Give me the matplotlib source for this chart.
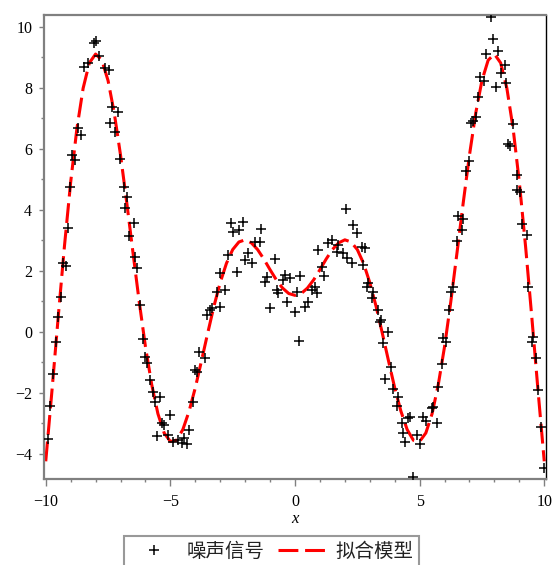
import numpy as np
import matplotlib.pyplot as plt

# noisy samples
noise_x = [-9.89, -9.82, -9.71, -9.59, -9.49, -9.39, -9.31, -9.18, -9.09, -9.02,
           -8.95, -8.82, -8.69, -8.59, -8.48, -8.32, -8.06, -7.99, -7.88, -7.62,
           -7.48, -7.35, -7.12, -7.41, -7.21, -7.01, -6.88, -6.75, -6.81, -6.44,
           -6.65, -6.41, -6.32, -6.21, -6.08, -6.01, -5.92, -5.81, -5.70, -5.41,
           -5.61, -5.01, -5.34, -5.24, -5.54, -5.08, -4.88, -4.68, -4.54, -4.34,
           -4.24, -4.45, -4.10, -4.01, -3.94, -3.84, -3.61, -3.54, -3.41, -3.34,
           -3.01, -3.14, -2.81, -3.01, -2.67, -2.31, -2.00, -1.87, -1.74, -1.60,
           -1.40, -2.58, -2.47, -2.23, -2.10, -1.35, -0.80, -1.20, -1.13, -1.00,
           -0.73, -0.67, -0.40, -0.47, -0.33, -0.20, 0.20, 0.07, 0.00, 0.17,
           0.40, 0.53, 0.67, 0.87, 0.80, 0.93, 1.17, 1.07, 1.33, 1.47,
           1.74, 1.67, 1.94, 2.07, 2.27, 2.06, 2.34, 2.47, 2.67, 2.81,
           2.74, 2.91, 2.87, 3.14, 3.07, 3.31, 3.41, 3.47, 3.74, 3.54,
           3.85, 3.61, 3.93, 4.14, 4.08, 4.61, 4.54, 4.28, 4.34, 4.42,
           4.74, 4.88, 5.01, 5.14, 5.24, 5.68, 5.48, 5.54, 5.74, 5.88,
           5.94, 6.05, 6.18, 6.24, 6.34, 6.48, 6.68, 6.55, 6.75, 6.88,
           6.99, 7.08, 7.15, 7.28, 7.35, 7.41, 7.58, 7.68, 7.88, 7.95,
           8.15, 8.28, 8.42, 8.06, 8.48, 8.75, 8.55, 8.62, 8.91, 8.89,
           9.02, 9.09, 9.29, 9.35, 9.53, 9.49, 9.66, 9.73, 9.86, 9.98]
noise_y = [-3.52, -2.42, -1.39, -0.34, 0.48, 1.14, 2.25, 2.17, 3.40, 4.76,
           5.80, 5.64, 6.68, 6.46, 8.67, 8.81, 9.47, 9.55, 9.03, 8.65,
           8.59, 7.39, 7.22, 6.84, 6.57, 5.66, 4.76, 4.44, 4.06, 3.58,
           3.15, 2.47, 2.09, 0.89, -0.23, -0.81, -1.01, -1.57, -1.96, -2.12,
           -2.30, -2.72, -2.99, -3.05, -3.41, -3.38, -3.60, -3.54, -3.65, -3.67,
           -3.21, -3.49, -2.29, -1.25, -1.30, -0.65, -0.86, 0.56, 0.72, 0.78,
           0.83, 1.32, 1.38, 1.92, 2.52, 1.98, 2.36, 2.58, 2.25, 2.96,
           2.96, 3.56, 3.29, 3.34, 3.62, 3.37, 2.38, 1.65, 1.81, 0.78,
           1.38, 1.27, 1.87, 1.70, 0.99, 1.76, 1.84, 1.32, 0.67, -0.28,
           0.82, 0.99, 1.38, 1.27, 1.49, 2.69, 1.84, 2.14, 2.91, 3.00,
           2.85, 2.63, 2.58, 2.42, 2.25, 4.02, 3.49, 3.24, 2.80, 2.74,
           2.20, 1.60, 1.49, 1.32, 1.10, 0.72, 0.34, 0.39, 0.01, -0.37,
           -1.14, -1.55, -1.87, -2.13, -2.43, -2.78, -2.83, -2.99, -3.32, -3.62,
           -4.74, -3.38, -3.66, -2.78, -2.93, -2.99, -2.50, -2.45, -1.82, -1.05,
           -0.21, -0.32, 0.72, 1.32, 1.49, 2.98, 3.34, 3.80, 3.70, 5.29,
           5.62, 6.84, 6.90, 7.04, 7.71, 8.37, 8.24, 9.11, 10.34, 9.60,
           9.22, 8.48, 8.75, 8.02, 8.15, 6.81, 6.16, 6.08, 5.15, 4.66,
           4.60, 3.54, 3.18, 1.49, -0.15, -0.32, -0.86, -1.90, -3.10, -4.47]

# fitted model, read every 0.25 along x
model_x = np.arange(-10, 10.001, 0.25)
model_y = [-4.24, -1.92, 0.49, 2.81, 4.91, 6.67, 7.99, 8.82, 9.11, 8.91,
           8.24, 7.17, 5.80, 4.24, 2.60, 0.99, -0.48, -1.72, -2.68, -3.31,
           -3.59, -3.55, -3.20, -2.60, -1.83, -0.94, -0.03, 0.85, 1.62, 2.25,
           2.70, 2.95, 3.02, 2.92, 2.70, 2.39, 2.04, 1.71, 1.44, 1.26,
           1.20,
           1.26, 1.44, 1.71, 2.04, 2.39, 2.70, 2.92, 3.02, 2.95, 2.70,
           2.25, 1.62, 0.85, -0.03, -0.94, -1.83, -2.60, -3.20, -3.55, -3.59,
           -3.31, -2.68, -1.72, -0.48, 0.99, 2.60, 4.24, 5.80, 7.17, 8.24,
           8.91, 9.11, 8.82, 7.99, 6.67, 4.91, 2.81, 0.49, -1.92, -4.24]

fig = plt.figure(figsize=(5.53, 5.65), dpi=100)
ax = fig.add_axes([44/553, 1-478.7/565, 502/553, 464/565])

ax.plot(noise_x, noise_y, ls='none', marker='+', ms=7.5, mew=1.1,
        color='black', label='噪声信号', zorder=3)
ax.plot(model_x, model_y, color='red', lw=2.2, dashes=(6.5, 2.2),
        label='拟合模型', zorder=2)

ax.set_xlim(-10.07, 10.07)
ax.set_ylim(-4.81, 10.4)
ax.set_xticks([-10, -5, 0, 5, 10])
ax.set_xticks(np.arange(-10, 11, 1), minor=True)
ax.set_yticks(np.arange(-4, 11, 2))
ax.set_yticks(np.arange(-3, 11, 2), minor=True)
ax.set_xticklabels(['−10', '−5', '0', '5', '10'])
ax.set_yticklabels(['−4', '−2', '0', '2', '4', '6', '8', '10'])

for lab in ax.get_xticklabels() + ax.get_yticklabels():
    lab.set_family('Liberation Serif')
    lab.set_fontsize(11.5)
ax.tick_params(axis='x', which='major', length=5, width=1, color='gray', pad=6)
ax.tick_params(axis='x', which='minor', length=2.5, width=1, color='gray')
ax.tick_params(axis='y', which='major', length=3.5, width=1, color='gray', pad=5)
ax.tick_params(axis='y', which='minor', length=2.5, width=1, color='gray')

ax.set_xlabel('x', family='Liberation Serif', style='italic', fontsize=12, labelpad=1)

for s in ['top', 'left', 'bottom']:
    ax.spines[s].set_color('gray')
    ax.spines[s].set_linewidth(1.6)
ax.spines['right'].set_color('black')
ax.spines['right'].set_linewidth(1.0)

leg = fig.legend(loc='upper center', bbox_to_anchor=(271.5/553, 1-536/565), ncol=2,
                 frameon=True, fancybox=False, edgecolor='gray',
                 prop={'family': ['Noto Sans CJK SC', 'DejaVu Sans'], 'size': 14},
                 handlelength=2.5, handletextpad=0.45, columnspacing=0.7,
                 borderpad=0.25, borderaxespad=0)
leg.get_frame().set_linewidth(1.5)
for t in leg.get_texts():
    t.set_color('#222222')

fig.savefig('out.png', dpi=100)
